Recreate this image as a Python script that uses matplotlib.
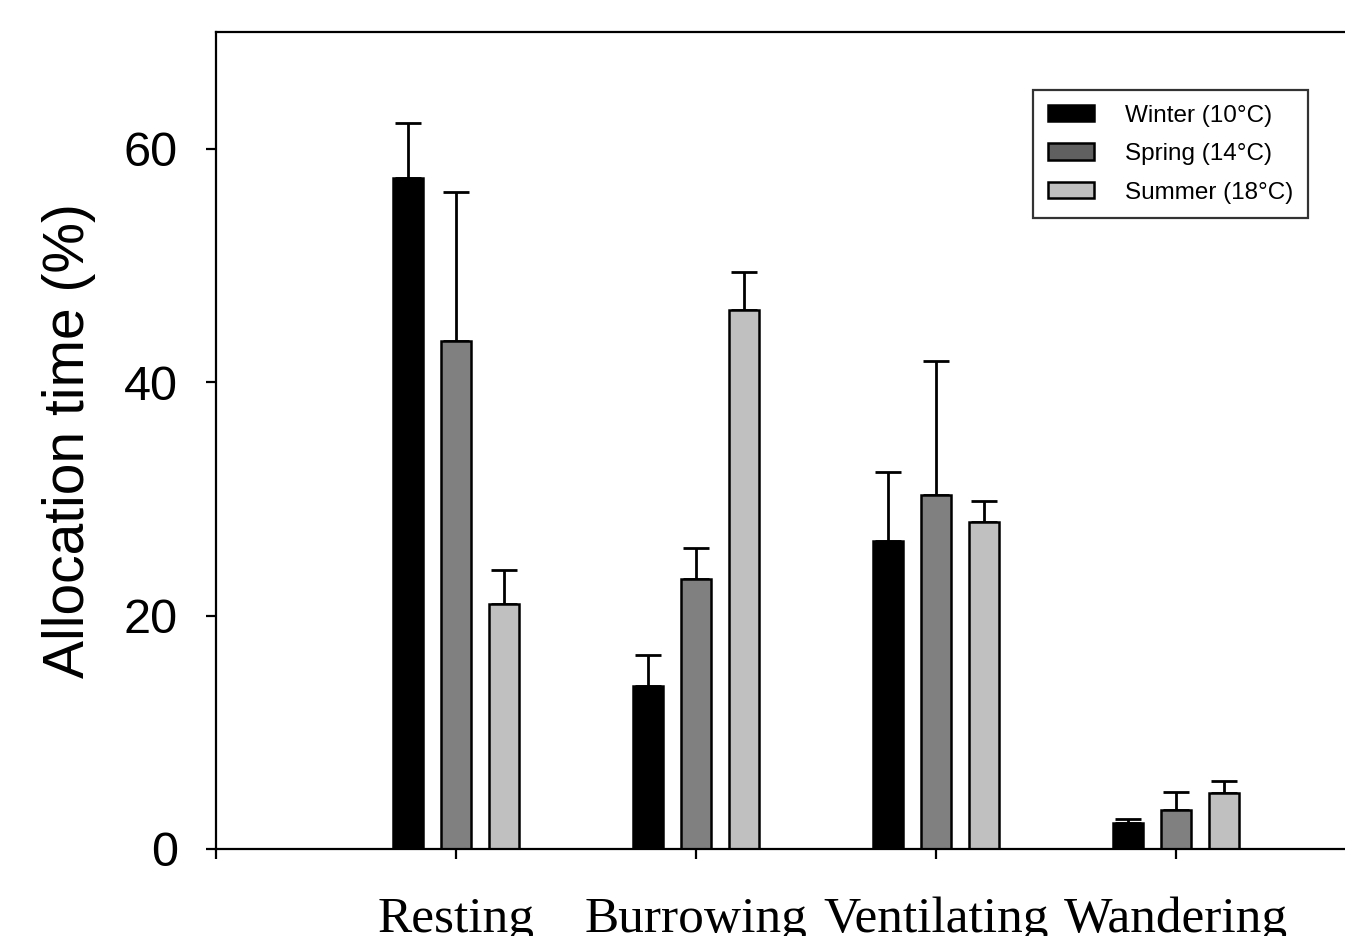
import matplotlib
matplotlib.use("Agg")
import matplotlib.pyplot as plt
from matplotlib.patches import Patch
import numpy as np

categories = ["Resting", "Burrowing", "Ventilating", "Wandering"]
series = ["Winter (10°C)", "Spring (14°C)", "Summer (18°C)"]
winter = [57.5, 14.0, 26.4, 2.2]
winter_err = [4.7, 2.6, 5.9, 0.4]
spring = [43.5, 23.1, 30.3, 3.3]
spring_err = [12.8, 2.7, 11.5, 1.6]
summer = [21.0, 46.2, 28.0, 4.8]
summer_err = [2.9, 3.2, 1.8, 1.0]
yticks = [0, 20, 40, 60]

bar_colors = ["#000000", "#808080", "#c0c0c0"]
legend_colors = ["#000000", "#606060", "#c0c0c0"]

fig = plt.figure(figsize=(13.45, 9.36), dpi=100)
ax = fig.add_axes([216/1345, 1-849/936, 1-216/1345, (849-32)/936])

x = np.arange(1, len(categories) + 1)
offsets = [-0.2, 0.0, 0.2]
width = 0.125
for vals, errs, c, off in zip([winter, spring, summer],
                              [winter_err, spring_err, summer_err],
                              bar_colors, offsets):
    ax.bar(x + off, vals, width=width, color=c, edgecolor="black",
           linewidth=1.8, zorder=2)
    ax.errorbar(x + off, vals, yerr=[np.zeros(len(errs)), errs], fmt="none",
                ecolor="black", elinewidth=2.0, capsize=9.4, capthick=2.0,
                zorder=1)

ax.set_xlim(0, 1129/240)
ax.set_ylim(0, 70)
ax.set_yticks(yticks)
ax.set_xticks(x)
ax.set_xticklabels(categories, family="Liberation Serif", fontsize=37)
ax.set_xticks([0], minor=True)
ax.tick_params(axis="x", which="both", direction="out", length=7, width=1.6, pad=27)
ax.tick_params(axis="y", direction="out", length=7.5, width=1.6, pad=20,
               labelsize=35)
for lab in ax.get_yticklabels():
    lab.set_family("Liberation Sans")
for s in ax.spines.values():
    s.set_linewidth(1.6)
ax.spines["right"].set_visible(False)

ax.set_ylabel("Allocation time (%)", family="Liberation Sans", fontsize=41,
              labelpad=20)

handles = [Patch(facecolor=c, edgecolor="black", linewidth=1.8) for c in legend_colors]
leg = ax.legend(handles, series, loc="upper left",
                bbox_to_anchor=((1033-216)/1129, (849-90)/817),
                prop={"family": "Liberation Sans", "size": 17.5},
                frameon=True, fancybox=False, edgecolor="black",
                handlelength=1.9, handleheight=0.65, handletextpad=1.3,
                labelspacing=0.68, borderpad=0.6, borderaxespad=0)
leg.get_frame().set_linewidth(1.6)
leg._legend_box.set_offset  # keep default placement

fig.savefig("out.png", dpi=100)
